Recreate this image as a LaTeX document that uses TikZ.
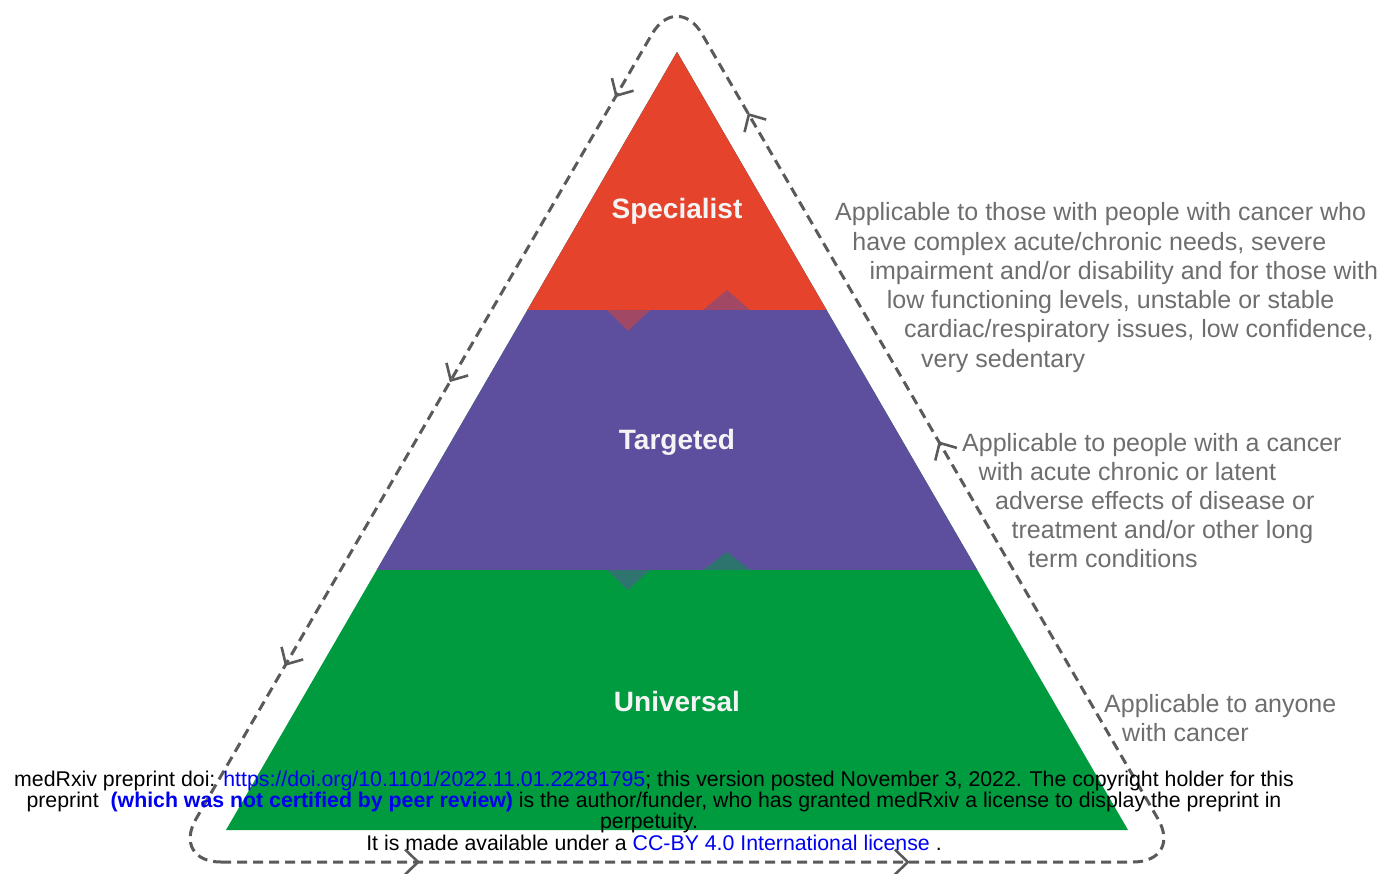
\documentclass[tikz,border=0pt]{standalone}
\usepackage{fontspec}
\setmainfont{Liberation Sans}
\usepackage{tikz}
\usetikzlibrary{calc,arrows.meta,decorations.markings}

\definecolor{tierred}{HTML}{E5432B}
\definecolor{tierpurple}{HTML}{5E4F9E}
\definecolor{tiergreen}{HTML}{009A3F}
\definecolor{labelwhite}{HTML}{F4F4F4}
\definecolor{descgray}{HTML}{6E6E6E}
\definecolor{framegray}{HTML}{5A5A5A}
\definecolor{linkblue}{HTML}{0000F0}

\begin{document}
\begin{tikzpicture}[x=1pt, y=-1pt,
		tier-label/.style={font=\fontsize{28}{28}\selectfont\bfseries, text=labelwhite,
		anchor=base, inner sep=0pt},
		desc/.style={font=\fontsize{25}{25}\selectfont, text=descgray, anchor=base west,
		inner sep=0pt},
		notice/.style={font=\fontsize{21.3}{21.3}\selectfont, anchor=base, inner sep=0pt},
		frame/.style={draw=framegray, line width=3pt, dash pattern=on 10pt off 6pt,
		rounded corners=50pt},
		notch/.style={fill opacity=0.5},
		flowmark/.style={postaction={decorate, decoration={markings,
		mark=at position #1 with {\arrow{>}}}}},
		>={Straight Barb[length=13pt, width=25pt]},
		]

		\useasboundingbox (0,0) rectangle (1386,874);

		\def\cuta{0.3316}
		\def\cutb{0.6658}

		\coordinate (apex)   at (677,52);
		\coordinate (base-l) at (226,830);
		\coordinate (base-r) at (1128,830);
		\coordinate (cut1-l) at ($(apex)!\cuta!(base-l)$);
		\coordinate (cut1-r) at ($(apex)!\cuta!(base-r)$);
		\coordinate (cut2-l) at ($(apex)!\cutb!(base-l)$);
		\coordinate (cut2-r) at ($(apex)!\cutb!(base-r)$);

		% tiers
		\fill[tiergreen]  (apex) -- (base-r) -- (base-l) -- cycle;
		\fill[tierpurple] (apex) -- (cut2-r) -- (cut2-l) -- cycle;
		\fill[tierred]    (apex) -- (cut1-r) -- (cut1-l) -- cycle;

		\fill[tierred,notch]    (607,310) -- (650,310) -- (628,331) -- cycle;
		\fill[tierpurple,notch] (703,310) -- (750,310) -- (727,290) -- cycle;
		\fill[tierpurple,notch] (607,570) -- (650,570) -- (628,590) -- cycle;
		\fill[tiergreen,notch]  (703,570) -- (750,570) -- (727,552) -- cycle;

		\node[tier-label] (specialist) at (677,219) {Specialist};
		\node[tier-label] (targeted)   at (677,449) {Targeted};
		\node[tier-label] (universal)  at (677,711) {Universal};

		% dashed loop
		\coordinate (loop-top) at (677,-9);
		\coordinate (loop-l)   at (171,862);
		\coordinate (loop-r)   at (1183,862);

		\draw[frame] (loop-l) -- (loop-r) -- (loop-top) -- cycle;

		\path[framegray, line width=2.6pt, flowmark=0.246, flowmark=0.730] (loop-l) -- (loop-r);
		\path[framegray, line width=2.6pt, flowmark=0.483, flowmark=0.860] (loop-r) -- (loop-top);
		\path[framegray, line width=2.6pt, flowmark=0.122, flowmark=0.449, flowmark=0.775]
		(loop-top) -- (loop-l);

		% descriptions
		\foreach \txt [count=\i from 0] in {Applicable to those with people with cancer who,
			{have complex acute/chronic needs, severe},
			impairment and/or disability and for those with,
			{low functioning levels, unstable or stable},
			{cardiac/respiratory issues, low confidence,},
			very sedentary}
		\node[desc] (spec-\i) at ({835+17.2*\i},{221+29.2*\i}) {\txt};

		\foreach \txt [count=\i from 0] in {Applicable to people with a cancer,
			with acute chronic or latent,
			adverse effects of disease or,
			treatment and/or other long,
			term conditions}
		\node[desc] (targ-\i) at ({962+16.5*\i},{451+29.2*\i}) {\txt};

		\node[desc] (univ-0) at (1104,712) {Applicable to anyone};
		\node[desc] (univ-1) at (1122,741) {with cancer};

		% preprint notice
		\node[notice] (notice-1) at (654,786) {medRxiv preprint doi:
			\textcolor{linkblue}{https://doi.org/10.1101/2022.11.01.22281795}; this version
			posted November 3, 2022. The copyright holder for this};
		\node[notice] (notice-2) at (654,807) {preprint\ \ \textcolor{linkblue}{\textbf{(which
			was not certified by peer review)}} is the author/funder, who has granted medRxiv a
			license to display the preprint in};
		\node[notice] (notice-3) at (649,828) {perpetuity.};
		\node[notice] (notice-4) at (654,850) {It is made available under a
			\textcolor{linkblue}{CC-BY 4.0 International license} .};

	\end{tikzpicture}
\end{document}
